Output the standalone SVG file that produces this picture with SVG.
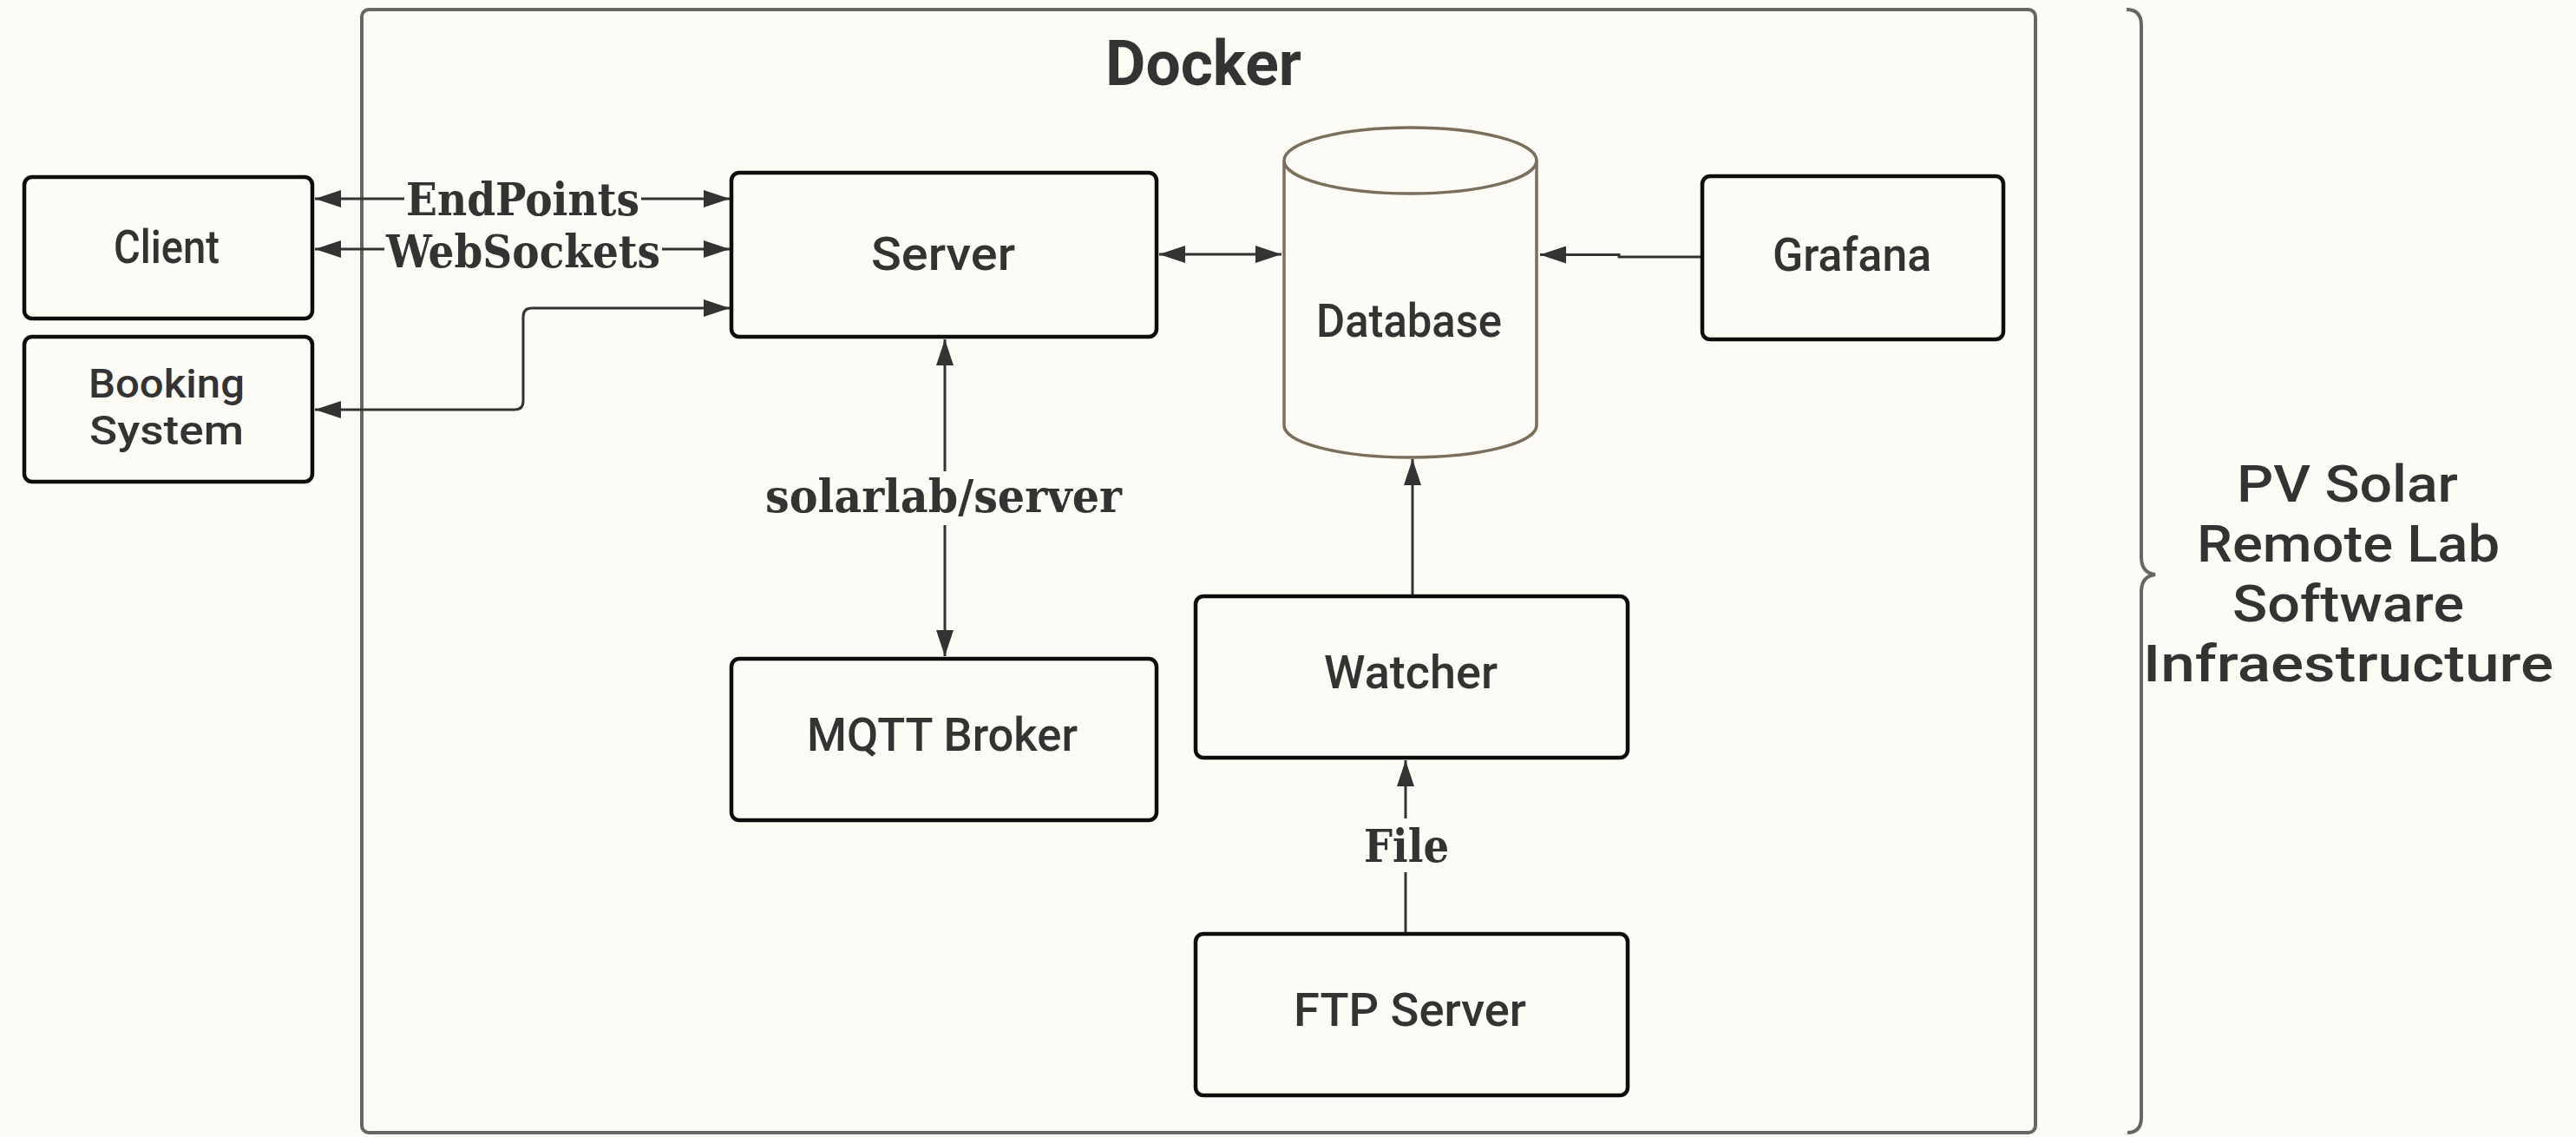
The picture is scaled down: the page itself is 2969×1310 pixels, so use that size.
<svg xmlns="http://www.w3.org/2000/svg" width="2969" height="1310" viewBox="0 0 2969 1310">
<style>
.bg{fill:#fdfbf6}
.node{fill:#fdfbf6;stroke:#0d0d0d;stroke-width:4.5}
.frame{fill:none;stroke:#666;stroke-width:4}
.lbl{font-family:Roboto,"DejaVu Sans Condensed","DejaVu Sans",sans-serif;font-weight:500;font-size:53px;fill:#333}
.title{font-family:Roboto,"DejaVu Sans Condensed","DejaVu Sans",sans-serif;font-size:72px;font-weight:bold;fill:#333}
.side{font-family:Roboto,"DejaVu Sans Condensed","DejaVu Sans",sans-serif;font-weight:500;font-size:59px;fill:#333}
.elbl{font-family:"DejaVu Serif Condensed","DejaVu Serif","Liberation Serif",serif;font-stretch:condensed;font-weight:bold;font-size:52px;fill:#333}
.edge{fill:none;stroke:#333;stroke-width:3}
.gap{fill:#fdfbf6}
</style>
<defs>
<marker id="ah" markerUnits="userSpaceOnUse" markerWidth="30" markerHeight="20" refX="30" refY="10" orient="auto-start-reverse" viewBox="0 0 30 20">
<path d="M0,0 L30,10 L0,20 z" fill="#333"/>
</marker>
</defs>
<rect class="bg" x="0" y="0" width="2969" height="1310"/>

<g id="docker">
<rect class="frame" x="417" y="11" width="1929" height="1294" rx="8"/>
<text class="title" x="1274" y="98" textLength="226" lengthAdjust="spacingAndGlyphs">Docker</text>
</g>

<g id="brace">
<path class="frame" d="M2451,11 Q2468,11 2468,29 V642 Q2468,660 2484,662 Q2468,664 2468,682 V1287 Q2468,1305 2452,1305"/>
<text class="side" x="2578" y="578" textLength="255" lengthAdjust="spacingAndGlyphs">PV Solar</text>
<text class="side" x="2532" y="647" textLength="349" lengthAdjust="spacingAndGlyphs">Remote Lab</text>
<text class="side" x="2573" y="716" textLength="267" lengthAdjust="spacingAndGlyphs">Software</text>
<text class="side" x="2470" y="785" textLength="473" lengthAdjust="spacingAndGlyphs">Infraestructure</text>
</g>

<g id="connectors">
<path class="edge" d="M363,229 H841" marker-start="url(#ah)" marker-end="url(#ah)"/>
<path class="edge" d="M363,287 H841" marker-start="url(#ah)" marker-end="url(#ah)"/>
<path class="edge" d="M841,355 H613 Q603,355 603,365 V462 Q603,472 593,472 H363" marker-start="url(#ah)" marker-end="url(#ah)"/>
<path class="edge" d="M1336,293 H1477" marker-start="url(#ah)" marker-end="url(#ah)"/>
<path class="edge" d="M1962,296 H1866 V293.5 H1775" marker-end="url(#ah)"/>
<path class="edge" d="M1089,391 V756" marker-start="url(#ah)" marker-end="url(#ah)"/>
<path class="edge" d="M1628,687 V529" marker-end="url(#ah)"/>
<path class="edge" d="M1620,1076 V876" marker-end="url(#ah)"/>
<rect class="gap" x="466" y="207" width="273" height="44"/>
<text class="elbl" x="468" y="248" textLength="269" lengthAdjust="spacingAndGlyphs">EndPoints</text>
<rect class="gap" x="443" y="266" width="320" height="44"/>
<text class="elbl" x="445" y="308" textLength="316" lengthAdjust="spacingAndGlyphs">WebSockets</text>
<rect class="gap" x="880" y="543" width="415" height="62"/>
<text class="elbl" x="882" y="590" textLength="411" lengthAdjust="spacingAndGlyphs">solarlab/server</text>
<rect class="gap" x="1570" y="943" width="102" height="62"/>
<text class="elbl" x="1572" y="993" textLength="98" lengthAdjust="spacingAndGlyphs">File</text>
</g>

<g id="client">
<rect class="node" x="28" y="204" width="332" height="163" rx="9"/>
<text class="lbl" x="131" y="303" textLength="122" lengthAdjust="spacingAndGlyphs">Client</text>
</g>
<g id="booking">
<rect class="node" x="28" y="388" width="332" height="167" rx="9"/>
<text class="lbl" x="102" y="458" textLength="180" lengthAdjust="spacingAndGlyphs" style="font-size:46px">Booking</text>
<text class="lbl" x="103" y="512" textLength="178" lengthAdjust="spacingAndGlyphs" style="font-size:46px">System</text>
</g>
<g id="server">
<rect class="node" x="843" y="199" width="490" height="189" rx="9"/>
<text class="lbl" x="1004" y="311" textLength="166" lengthAdjust="spacingAndGlyphs">Server</text>
</g>
<g id="database">
<path d="M1480,185 V490 A145.5,37 0 0 0 1771,490 V185" fill="#fdfbf6" stroke="#7b6f5c" stroke-width="3.5"/>
<ellipse cx="1625.5" cy="185" rx="145.5" ry="38" fill="#fdfbf6" stroke="#7b6f5c" stroke-width="3.5"/>
<text class="lbl" x="1517" y="388" textLength="214" lengthAdjust="spacingAndGlyphs">Database</text>
</g>
<g id="grafana">
<rect class="node" x="1962" y="203" width="347" height="188" rx="9"/>
<text class="lbl" x="2043" y="312" textLength="183" lengthAdjust="spacingAndGlyphs">Grafana</text>
</g>
<g id="mqtt">
<rect class="node" x="843" y="759" width="490" height="186" rx="9"/>
<text class="lbl" x="930" y="865" textLength="312" lengthAdjust="spacingAndGlyphs">MQTT Broker</text>
</g>
<g id="watcher">
<rect class="node" x="1378" y="687" width="498" height="186" rx="9"/>
<text class="lbl" x="1526" y="793" textLength="200" lengthAdjust="spacingAndGlyphs">Watcher</text>
</g>
<g id="ftp">
<rect class="node" x="1378" y="1076" width="498" height="186" rx="9"/>
<text class="lbl" x="1491" y="1182" textLength="268" lengthAdjust="spacingAndGlyphs">FTP Server</text>
</g>
</svg>
